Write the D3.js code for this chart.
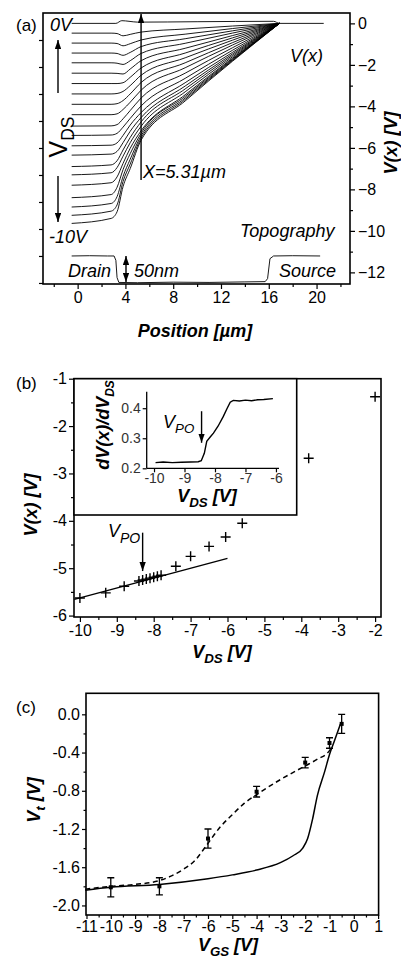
<!DOCTYPE html>
<html lang="en">
<head>
<meta charset="UTF-8">
<title>V(x) profiles</title>
<script src="https://d3js.org/d3.v7.min.js"></script>
<style>
body{margin:0;background:#fff;}
svg{display:block;font-family:"Liberation Sans",Arial,sans-serif;}
.axis path{display:none;}
.axis line{stroke:#000;stroke-width:1.2;}
.axis text{font-family:"Liberation Sans",Arial,sans-serif;fill:#000;font-size:16px;}
.inset .axis text{font-size:14px;fill:#333;}
.frame{fill:none;stroke:#000;stroke-width:1.6;}
.ann{font-style:italic;font-size:18px;}
.ttl{font-style:italic;font-weight:bold;font-size:18px;}
</style>
</head>
<body>
<script>
// ---- panel (a): potential profiles V(x) for each V_DS ----
var posA = [-0.5, 2.8, 3.3, 3.8, 4.4, 5.31, 9, 16.9];
var vdsA = [-0.5, -1, -1.5, -2, -2.5, -3, -3.5, -4, -4.5, -5, -5.5, -6, -6.5, -7, -7.5, -8, -8.5, -9, -9.5, -10];
var profA = [
    [-0.47, -0.47, -0.49, -0.60, -0.53, -0.42, -0.27, 0],
    [-0.95, -0.95, -0.97, -1.08, -0.98, -0.80, -0.52, 0],
    [-1.43, -1.43, -1.45, -1.54, -1.40, -1.12, -0.74, 0],
    [-1.90, -1.90, -1.92, -1.98, -1.80, -1.45, -0.96, 0],
    [-2.40, -2.40, -2.41, -2.44, -2.20, -1.80, -1.20, 0],
    [-2.90, -2.90, -2.90, -2.86, -2.60, -2.15, -1.43, 0],
    [-3.40, -3.40, -3.38, -3.28, -3.00, -2.50, -1.66, 0],
    [-3.90, -3.90, -3.87, -3.72, -3.40, -2.85, -1.90, 0],
    [-4.40, -4.40, -4.36, -4.15, -3.80, -3.22, -2.14, 0],
    [-4.95, -4.94, -4.88, -4.60, -4.20, -3.60, -2.40, 0],
    [-5.40, -5.38, -5.30, -5.00, -4.58, -3.98, -2.65, 0],
    [-5.90, -5.87, -5.76, -5.40, -4.90, -4.30, -2.86, 0],
    [-6.35, -6.30, -6.17, -5.75, -5.20, -4.54, -3.02, 0],
    [-6.90, -6.82, -6.62, -6.10, -5.50, -4.75, -3.16, 0],
    [-7.30, -7.20, -6.95, -6.40, -5.75, -4.96, -3.30, 0],
    [-7.80, -7.68, -7.40, -6.75, -6.02, -5.18, -3.44, 0],
    [-8.40, -8.25, -7.90, -7.05, -6.28, -5.30, -3.52, 0],
    [-8.85, -8.68, -8.35, -7.38, -6.55, -5.42, -3.60, 0],
    [-9.25, -9.05, -8.75, -7.62, -6.78, -5.53, -3.67, 0],
    [-9.64, -9.40, -9.08, -7.87, -7.00, -5.63, -3.74, 0]
];
var zeroX = [-0.5, 3.2, 3.7, 4.3, 5, 10, 16.4, 16.9, 20.6];
var zeroV = [0, 0, 0.13, 0.10, 0.06, 0.08, 0.10, 0, 0];
var topoX = [-0.5, 1, 2.5, 3.05, 3.2, 3.3, 3.45, 5, 8, 11, 14, 15.7, 15.9, 16.1, 16.4, 18, 20.3];
var topoH = [50, 50.5, 50, 50, 42, 10, 1, 0.5, 1.5, 1, 2, 2.5, 8, 45, 50, 50.5, 50];
var ticksAx = [0, 4, 8, 12, 16, 20];
var ticksAv = [0, -2, -4, -6, -8, -10, -12];

// ---- panel (b): V(x=5.31um) versus V_DS ----
var vdsB = [-10, -9.3, -8.8, -8.4, -8.3, -8.2, -8.1, -8.0, -7.9, -7.8, -7.4, -7.0, -6.5, -6.05, -5.6, -3.8, -2.0];
var vB = [-5.63, -5.52, -5.38, -5.27, -5.25, -5.23, -5.21, -5.19, -5.17, -5.15, -4.96, -4.75, -4.54, -4.34, -4.05, -2.68, -1.38];
var fitBx = [-10.15, -6.0];
var fitBv = [-5.66, -4.79];
var ticksBx = [-10, -9, -8, -7, -6, -5, -4, -3, -2];
var ticksBv = [-1, -2, -3, -4, -5, -6];
// inset: dV(x)/dV_DS
var insX = [-9.95, -9.7, -9.4, -9.1, -8.8, -8.55, -8.45, -8.35, -8.27, -8.15, -8.05, -7.9, -7.73, -7.6, -7.5, -7.4, -7.2, -7.0, -6.8, -6.6, -6.4, -6.1];
var insY = [0.219, 0.221, 0.219, 0.220, 0.221, 0.222, 0.225, 0.250, 0.290, 0.305, 0.317, 0.340, 0.372, 0.400, 0.420, 0.426, 0.424, 0.427, 0.425, 0.428, 0.429, 0.432];
var ticksIx = [-10, -9, -8, -7, -6];
var ticksIy = [0.2, 0.3, 0.4];

// ---- panel (c): V_t versus V_GS ----
var vgsC = [-10, -8, -6, -4, -2, -1, -0.5];
var vtC = [-1.81, -1.80, -1.30, -0.81, -0.505, -0.30, -0.10];
var errC = [0.10, 0.09, 0.10, 0.055, 0.055, 0.055, 0.10];
var solidX = [-11.05, -10, -8, -6, -5, -4, -3, -2.5, -2.1, -1.9, -1.7, -1.5, -1.2, -1.0, -0.8, -0.55];
var solidY = [-1.84, -1.81, -1.78, -1.72, -1.68, -1.63, -1.55, -1.48, -1.40, -1.30, -1.10, -0.85, -0.60, -0.42, -0.28, -0.10];
var dashX = [-11.05, -10, -9, -8, -7.5, -7, -6.5, -6.2, -6, -5.5, -5, -4.5, -4, -3, -2, -1.5, -1, -0.9];
var dashY = [-1.83, -1.80, -1.78, -1.74, -1.69, -1.62, -1.52, -1.42, -1.35, -1.18, -1.05, -0.93, -0.84, -0.68, -0.54, -0.47, -0.38, -0.34];
var ticksCx = [-11, -10, -9, -8, -7, -6, -5, -4, -3, -2, -1, 0, 1];
var ticksCy = [0, -0.4, -0.8, -1.2, -1.6, -2.0];

var svg = d3.select("body").append("svg").attr("width", 401).attr("height", 960);

var defs = svg.append("defs");
defs.append("marker").attr("id", "head")
    .attr("viewBox", "0 0 10 7").attr("refX", 10).attr("refY", 3.5)
    .attr("markerWidth", 9).attr("markerHeight", 6.3)
    .attr("markerUnits", "userSpaceOnUse").attr("orient", "auto-start-reverse")
    .append("path").attr("d", "M0,0L10,3.5L0,7z").attr("fill", "#000");

function range(a, b, s) { return d3.range(a, b + s / 2, s); }

// label with a subscript
function subLabel(g, x, y, main, sub, rest, size, cls, anchor) {
    var t = g.append("text").attr("x", x).attr("y", y).attr("class", cls)
        .attr("font-size", size).attr("text-anchor", anchor || "start");
    t.append("tspan").text(main);
    t.append("tspan").attr("font-size", size * 0.7).attr("dy", size * 0.28).text(sub);
    if (rest) t.append("tspan").attr("dy", -size * 0.28).text(rest);
    return t;
}
function arrow(g, x1, y1, x2, y2, both) {
    var l = g.append("line").attr("x1", x1).attr("y1", y1).attr("x2", x2).attr("y2", y2)
        .attr("stroke", "#000").attr("stroke-width", 1.4).attr("marker-end", "url(#head)");
    if (both) l.attr("marker-start", "url(#head)");
}

// ================= (a) =================
var xA = d3.scaleLinear().domain([-2.9, 22.8]).range([43, 350]);
var yA = d3.scaleLinear().domain([-12.56, 0.5]).range([284, 13]);
var hA = d3.scaleLinear().domain([-1.9, 500]).range([284, 13]);
var gA = svg.append("g");

gA.append("g").attr("class", "axis").attr("transform", "translate(0,284)")
    .call(d3.axisBottom(xA).tickValues(ticksAx).tickSize(5).tickPadding(3));
gA.append("g").attr("class", "axis").attr("transform", "translate(0,284)")
    .call(d3.axisBottom(xA).tickValues(range(-2, 22, 4)).tickSize(3).tickFormat(""));
gA.append("g").attr("class", "axis").attr("transform", "translate(350,0)")
    .call(d3.axisRight(yA).tickValues(ticksAv).tickSize(5).tickPadding(3));
gA.append("g").attr("class", "axis").attr("transform", "translate(350,0)")
    .call(d3.axisRight(yA).tickValues(range(-11, -1, 2)).tickSize(3).tickFormat(""));
gA.append("g").attr("class", "axis").attr("transform", "translate(43,0)")
    .call(d3.axisLeft(hA).tickValues(range(0, 450, 50)).tickSize(4).tickFormat(""));

var lineA = d3.line().x(d => xA(d[0])).y(d => yA(d[1])).curve(d3.curveMonotoneX);
gA.selectAll("path.prof").data(profA).join("path").attr("class", "prof")
    .attr("d", row => lineA(posA.map((p, i) => [p, row[i]])))
    .attr("fill", "none").attr("stroke", "#000").attr("stroke-width", 0.9);
gA.append("path").attr("d", lineA(zeroX.map((p, i) => [p, zeroV[i]])))
    .attr("fill", "none").attr("stroke", "#000").attr("stroke-width", 0.9);
gA.append("path")
    .attr("d", d3.line().x(d => xA(d[0])).y(d => hA(d[1]))(topoX.map((p, i) => [p, topoH[i]])))
    .attr("fill", "none").attr("stroke", "#000").attr("stroke-width", 0.9);

gA.append("rect").attr("class", "frame").attr("x", 43).attr("y", 13).attr("width", 307).attr("height", 271);

gA.append("text").attr("x", 16).attr("y", 31).attr("font-size", 17).text("(a)");
gA.append("text").attr("class", "ann").attr("x", 50).attr("y", 31).text("0V");
gA.append("text").attr("class", "ann").attr("x", 49).attr("y", 243).text("-10V");
arrow(gA, 58, 93, 58, 40);
arrow(gA, 58, 176, 58, 222);
subLabel(gA.append("g").attr("transform", "translate(67,137) rotate(-90)"), 0, 0, "V", "DS", null, 25, "", "middle");
arrow(gA, xA(5.31), 180, xA(5.31), 14);
gA.append("text").attr("class", "ann").attr("x", 143).attr("y", 178).text("X=5.31\u00b5m");
gA.append("text").attr("class", "ann").attr("x", 290).attr("y", 62).text("V(x)");
gA.append("text").attr("class", "ann").attr("x", 240).attr("y", 237).text("Topography");
gA.append("text").attr("class", "ann").attr("x", 68).attr("y", 277).text("Drain");
arrow(gA, 126, 256, 126, 282, true);
gA.append("text").attr("class", "ann").attr("x", 134).attr("y", 277).text("50nm");
gA.append("text").attr("class", "ann").attr("x", 279).attr("y", 277).text("Source");
gA.append("text").attr("class", "ttl").attr("x", 195).attr("y", 337).attr("text-anchor", "middle").text("Position [\u00b5m]");
gA.append("text").attr("class", "ttl").attr("transform", "translate(397,143) rotate(-90)")
    .attr("text-anchor", "middle").attr("font-size", 19).text("V(x) [V]");

// ================= (b) =================
var xB = d3.scaleLinear().domain([-10.16, -1.84]).range([74, 381]);
var yB = d3.scaleLinear().domain([-6.03, -1]).range([617, 378.7]);
var gB = svg.append("g");

gB.append("g").attr("class", "axis").attr("transform", "translate(0,617)")
    .call(d3.axisBottom(xB).tickValues(ticksBx).tickSize(5).tickPadding(3).tickFormat(d => String(d)));
gB.append("g").attr("class", "axis").attr("transform", "translate(0,617)")
    .call(d3.axisBottom(xB).tickValues(range(-9.5, -2.5, 1)).tickSize(3).tickFormat(""));
gB.append("g").attr("class", "axis").attr("transform", "translate(74,0)")
    .call(d3.axisLeft(yB).tickValues(ticksBv).tickSize(5).tickPadding(2).tickFormat(d => String(d)));
gB.append("g").attr("class", "axis").attr("transform", "translate(74,0)")
    .call(d3.axisLeft(yB).tickValues(range(-5.5, -1.5, 1)).tickSize(3).tickFormat(""));

gB.append("path").attr("d", d3.line()(fitBx.map((p, i) => [xB(p), yB(fitBv[i])])))
    .attr("stroke", "#000").attr("stroke-width", 1.3).attr("fill", "none");
gB.selectAll("path.pt").data(vdsB).join("path").attr("class", "pt")
    .attr("d", (d, i) => {
        var cx = xB(d), cy = yB(vB[i]);
        return "M" + (cx - 5) + "," + cy + "H" + (cx + 5) + "M" + cx + "," + (cy - 5) + "V" + (cy + 5);
    })
    .attr("stroke", "#000").attr("stroke-width", 1.4).attr("fill", "none");

arrow(gB, xB(-8.3), yB(-4.25), xB(-8.3), yB(-5.06));
subLabel(gB, 108, 537, "V", "PO", null, 20, "ann");

gB.append("rect").attr("class", "frame").attr("x", 74).attr("y", 378.7).attr("width", 307).attr("height", 238.3);

// inset
var gI = gB.append("g").attr("class", "inset");
gI.append("rect").attr("x", 74).attr("y", 378.7).attr("width", 222.7).attr("height", 136.3)
    .attr("fill", "#fff").attr("stroke", "#000").attr("stroke-width", 1.6);
var xI = d3.scaleLinear().domain([-10.24, -5.9]).range([146.7, 279]);
var yI = d3.scaleLinear().domain([0.2, 0.455]).range([468.3, 391.7]);
gI.append("g").attr("class", "axis").attr("transform", "translate(0,468.3)")
    .call(d3.axisBottom(xI).tickValues(ticksIx).tickSize(4).tickPadding(1).tickFormat(d => String(d)));
gI.append("g").attr("class", "axis").attr("transform", "translate(146.7,0)")
    .call(d3.axisLeft(yI).tickValues(ticksIy).tickSize(4).tickPadding(2).tickFormat(d => d.toFixed(1)));
gI.append("line").attr("x1", 146.7).attr("x2", 146.7).attr("y1", 391.7).attr("y2", 468.3).attr("stroke", "#000").attr("stroke-width", 1.3);
gI.append("line").attr("x1", 146.7).attr("x2", 279).attr("y1", 468.3).attr("y2", 468.3).attr("stroke", "#000").attr("stroke-width", 1.3);
gI.append("path").attr("d", d3.line().x(d => xI(d[0])).y(d => yI(d[1]))(insX.map((p, i) => [p, insY[i]])))
    .attr("fill", "none").attr("stroke", "#000").attr("stroke-width", 1.4);
arrow(gI, xI(-8.44), yI(0.39), xI(-8.44), yI(0.285));
subLabel(gI, 163, 428, "V", "PO", null, 19, "ann");
subLabel(gI, 207, 502, "V", "DS", " [V]", 19, "ttl", "middle");
subLabel(gI.append("g").attr("transform", "translate(109,425) rotate(-90)"), 0, 0, "dV(x)/dV", "DS", null, 17, "ttl", "middle");

gB.append("text").attr("x", 16).attr("y", 389).attr("font-size", 17).text("(b)");
subLabel(gB, 222, 658, "V", "DS", " [V]", 19, "ttl", "middle");
gB.append("text").attr("class", "ttl").attr("transform", "translate(37,505) rotate(-90)")
    .attr("text-anchor", "middle").attr("font-size", 19).text("V(x) [V]");

// ================= (c) =================
var xC = d3.scaleLinear().domain([-11.02, 1.02]).range([86, 378.6]);
var yC = d3.scaleLinear().domain([-2.1, 0.22]).range([915, 693.3]);
var gC = svg.append("g");

gC.append("g").attr("class", "axis").attr("transform", "translate(0,915)")
    .call(d3.axisBottom(xC).tickValues(ticksCx).tickSize(4).tickPadding(2).tickFormat(d => String(d)));
gC.append("g").attr("class", "axis").attr("transform", "translate(0,915)")
    .call(d3.axisBottom(xC).tickValues(range(-10.5, 0.5, 1)).tickSize(2.5).tickFormat(""));
gC.append("g").attr("class", "axis").attr("transform", "translate(86,0)")
    .call(d3.axisLeft(yC).tickValues(ticksCy).tickSize(4).tickPadding(2).tickFormat(d => d.toFixed(1)));
gC.append("g").attr("class", "axis").attr("transform", "translate(86,0)")
    .call(d3.axisLeft(yC).tickValues(range(-1.8, -0.2, 0.4)).tickSize(2.5).tickFormat(""));

var lineC = d3.line().x(d => xC(d[0])).y(d => yC(d[1])).curve(d3.curveMonotoneX);
gC.append("path").attr("d", lineC(solidX.map((p, i) => [p, solidY[i]])))
    .attr("fill", "none").attr("stroke", "#000").attr("stroke-width", 1.5);
gC.append("path").attr("d", lineC(dashX.map((p, i) => [p, dashY[i]])))
    .attr("fill", "none").attr("stroke", "#000").attr("stroke-width", 1.5).attr("stroke-dasharray", "5,3.5");

var eb = gC.selectAll("g.eb").data(vgsC).join("g").attr("class", "eb");
eb.append("path").attr("d", (d, i) => {
    var cx = xC(d), t = yC(vtC[i] + errC[i]), b = yC(vtC[i] - errC[i]);
    return "M" + cx + "," + t + "V" + b + "M" + (cx - 3.5) + "," + t + "H" + (cx + 3.5) + "M" + (cx - 3.5) + "," + b + "H" + (cx + 3.5);
}).attr("stroke", "#000").attr("stroke-width", 1.3).attr("fill", "none");
eb.append("rect").attr("x", d => xC(d) - 2).attr("y", (d, i) => yC(vtC[i]) - 2)
    .attr("width", 4).attr("height", 4).attr("fill", "#000");

gC.append("rect").attr("class", "frame").attr("x", 86).attr("y", 693.3).attr("width", 292.6).attr("height", 221.7);

gC.append("text").attr("x", 16).attr("y", 713).attr("font-size", 17).text("(c)");
subLabel(gC, 228, 951, "V", "GS", " [V]", 19, "ttl", "middle");
subLabel(gC.append("g").attr("transform", "translate(40,800) rotate(-90)"), 0, 0, "V", "t", " [V]", 19, "ttl", "middle");
</script>
</body>
</html>
